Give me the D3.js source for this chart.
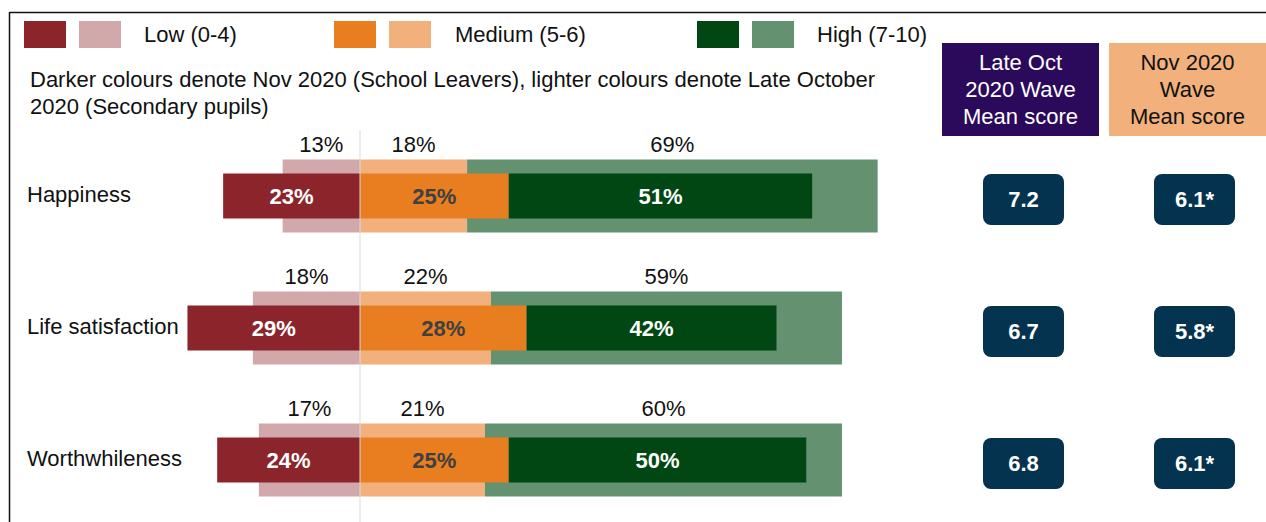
<!DOCTYPE html>
<html><head><meta charset="utf-8">
<script src="https://cdn.jsdelivr.net/npm/d3@7"></script>
<style>
html,body{margin:0;padding:0;background:#fff;}
svg{display:block;font-family:"Liberation Sans",Arial,sans-serif;}
</style></head>
<body>
<svg id="chart" width="1266" height="522"></svg>
<script>
const categories = ["Happiness", "Life satisfaction", "Worthwhileness"];
// Nov 2020 (School Leavers) – darker colours
const darkLow = [23, 29, 24];
const darkMed = [25, 28, 25];
const darkHigh = [51, 42, 50];
// Late October 2020 (Secondary pupils) – lighter colours
const lightLow = [13, 18, 17];
const lightMed = [18, 22, 21];
const lightHigh = [69, 59, 60];
// mean scores
const meanOct = ["7.2", "6.7", "6.8"];
const meanNov = ["6.1*", "5.8*", "6.1*"];
const legendLabels = ["Low (0-4)", "Medium (5-6)", "High (7-10)"];
const headerOct = ["Late Oct", "2020 Wave", "Mean score"];
const headerNov = ["Nov 2020", "Wave", "Mean score"];

const C = {
  darkLow: "#8B252B", lightLow: "#D1A9AA",
  darkMed: "#E87E1F", lightMed: "#F2B17C",
  darkHigh: "#004714", lightHigh: "#64916F",
  purple: "#2B0A5B", navy: "#03334E"
};

const svg = d3.select("#chart");
const FONT = 22;

const x = d3.scaleLinear().domain([-30, 70]).range([360 - 30 * 5.95, 360 + 70 * 5.95]);
const y = d3.scaleBand().domain(categories).range([130, 526]).padding(0);
const rowC = c => y(c) + y.bandwidth() / 2;

// frame
svg.append("line").attr("x1", 9.5).attr("x2", 1266).attr("y1", 12.5).attr("y2", 12.5)
  .attr("stroke", "#111").attr("stroke-width", 1.5);
svg.append("line").attr("x1", 9.5).attr("x2", 9.5).attr("y1", 12).attr("y2", 522)
  .attr("stroke", "#111").attr("stroke-width", 1.5);

// legend
const legendGroups = [
  {dark: C.darkLow, light: C.lightLow, x0: 24, tx: 144},
  {dark: C.darkMed, light: C.lightMed, x0: 334, tx: 455},
  {dark: C.darkHigh, light: C.lightHigh, x0: 697, tx: 817}
];
legendGroups.forEach((g, i) => {
  svg.append("rect").attr("x", g.x0).attr("y", 21).attr("width", 42).attr("height", 27).attr("fill", g.dark);
  svg.append("rect").attr("x", g.x0 + 55).attr("y", 21).attr("width", 42).attr("height", 27).attr("fill", g.light);
  svg.append("text").attr("x", g.tx).attr("y", 42).attr("font-size", FONT).attr("fill", "#111").text(legendLabels[i]);
});

// subtitle
svg.append("text").attr("x", 30).attr("y", 87).attr("font-size", FONT).attr("fill", "#111")
  .text("Darker colours denote Nov 2020 (School Leavers), lighter colours denote Late October");
svg.append("text").attr("x", 30).attr("y", 114).attr("font-size", FONT).attr("fill", "#111")
  .text("2020 (Secondary pupils)");

// header boxes
function header(x0, w, fill, col, lines) {
  svg.append("rect").attr("x", x0).attr("y", 43).attr("width", w).attr("height", 93).attr("fill", fill);
  lines.forEach((t, i) => {
    svg.append("text").attr("x", x0 + w / 2).attr("y", 70 + i * 27).attr("text-anchor", "middle")
      .attr("font-size", FONT).attr("fill", col).text(t);
  });
}
header(942, 157, C.purple, "#fff", headerOct);
header(1109, 157, C.lightMed, "#111", headerNov);

const LH = 73, DH = 45;

// light bars (Late Oct)
categories.forEach((c, i) => {
  const yc = rowC(c);
  const segs = [
    {x0: -lightLow[i], x1: 0, fill: C.lightLow, v: lightLow[i]},
    {x0: 0, x1: lightMed[i], fill: C.lightMed, v: lightMed[i]},
    {x0: lightMed[i], x1: lightMed[i] + lightHigh[i], fill: C.lightHigh, v: lightHigh[i]}
  ];
  segs.forEach(s => {
    svg.append("rect").attr("x", x(s.x0)).attr("width", x(s.x1) - x(s.x0))
      .attr("y", yc - LH / 2).attr("height", LH).attr("fill", s.fill);
    svg.append("text").attr("x", (x(s.x0) + x(s.x1)) / 2).attr("y", yc - LH / 2 - 8)
      .attr("text-anchor", "middle").attr("font-size", FONT).attr("fill", "#111").text(s.v + "%");
  });
});

// dark bars (Nov)
categories.forEach((c, i) => {
  const yc = rowC(c);
  const segs = [
    {x0: -darkLow[i], x1: 0, fill: C.darkLow, v: darkLow[i], tc: "#fff"},
    {x0: 0, x1: darkMed[i], fill: C.darkMed, v: darkMed[i], tc: "#404040"},
    {x0: darkMed[i], x1: darkMed[i] + darkHigh[i], fill: C.darkHigh, v: darkHigh[i], tc: "#fff"}
  ];
  segs.forEach(s => {
    svg.append("rect").attr("x", x(s.x0)).attr("width", x(s.x1) - x(s.x0))
      .attr("y", yc - DH / 2).attr("height", DH).attr("fill", s.fill);
    svg.append("text").attr("x", (x(s.x0) + x(s.x1)) / 2).attr("y", yc + 8)
      .attr("text-anchor", "middle").attr("font-size", FONT).attr("font-weight", "bold")
      .attr("fill", s.tc).text(s.v + "%");
  });
  // category label
  svg.append("text").attr("x", 27).attr("y", yc + 6).attr("font-size", FONT).attr("fill", "#111").text(c);
});

// zero line
svg.append("line").attr("x1", x(0)).attr("x2", x(0)).attr("y1", 130).attr("y2", 522)
  .attr("stroke", "#d9d9d9").attr("stroke-width", 1);

// mean score boxes
categories.forEach((c, i) => {
  const yc = rowC(c) + 3;
  [[983, meanOct[i]], [1154, meanNov[i]]].forEach(([bx, t]) => {
    svg.append("rect").attr("x", bx).attr("y", yc - 25).attr("width", 81).attr("height", 51)
      .attr("rx", 8).attr("fill", C.navy);
    svg.append("text").attr("x", bx + 40.5).attr("y", yc + 8).attr("text-anchor", "middle")
      .attr("font-size", FONT).attr("font-weight", "bold").attr("fill", "#fff").text(t);
  });
});
</script>
</body></html>
